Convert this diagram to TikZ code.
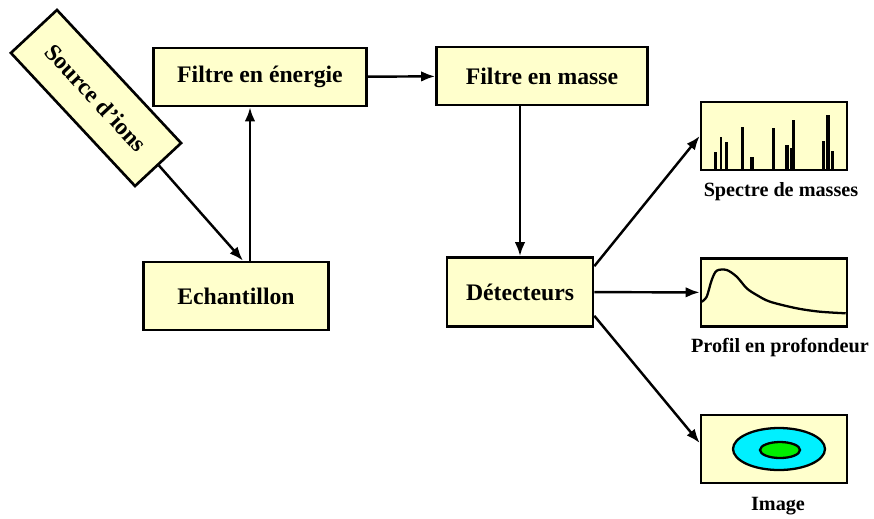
\documentclass[tikz,border=0pt]{standalone}
\usepackage{fontspec}
\setmainfont{Liberation Serif}
\usetikzlibrary{positioning,arrows.meta}

\definecolor{boxfill}{HTML}{FFFFCC}
\definecolor{ringcyan}{HTML}{00F0FF}
\definecolor{coregreen}{HTML}{00EE00}

\begin{document}
\begin{tikzpicture}[
    x=0.02cm, y=-0.02cm,
    box/.style={
        draw,
        line width=1.5pt,
        fill=boxfill,
        font=\bfseries\fontsize{13.5}{16}\selectfont,
        inner sep=0pt
    },
    result/.style={
        box,
        minimum width=2.92cm,
        minimum height=1.36cm
    },
    caption/.style={
        font=\bfseries\fontsize{11.5}{14}\selectfont,
        inner sep=1pt
    },
    arrow/.style={
        -{Latex[length=2.8mm,width=2.1mm]},
        line width=1.4pt
    },
    bar/.style={line width=1.4pt},
    thickbar/.style={line width=2.3pt}
]
    \useasboundingbox (0,0) rectangle (874,518);

    % Chain of the instrument
    \node[box, rotate=-47, minimum width=3.64cm, minimum height=1.26cm] (source) at (96,98) {Source d'ions};
    \node[box, minimum width=4.26cm, minimum height=1.16cm] (filtreE) at (260,77) {Filtre en énergie};
    \node[box, minimum width=4.22cm, minimum height=1.16cm] (filtreM) at (542,76) {Filtre en masse};
    \node[box, minimum width=3.7cm, minimum height=1.36cm] (echantillon) at (236,296) {Echantillon};
    \node[box, minimum width=2.92cm, minimum height=1.38cm] (detecteurs) at (520,292) {Détecteurs};

    % Results
    \node[result] (spectre) at (774,136) {};
    \node[result] (profil) at (774,292.5) {};
    \node[result] (image) at (774,449) {};

    \node[caption, below=5pt of spectre, xshift=0.14cm] (spectreLbl) {Spectre de masses};
    \node[caption, below=5pt of profil, xshift=0.12cm] (profilLbl) {Profil en profondeur};
    \node[caption, below=6pt of image, xshift=0.08cm] (imageLbl) {Image};

    % Connecting arrows
    \draw[arrow] (source.east) -- ([xshift=0.14cm]echantillon.north);
    \draw[arrow] ([xshift=0.28cm]echantillon.north) -- ([xshift=0.28cm]echantillon.north |- filtreE.south);
    \draw[arrow] (filtreE) -- (filtreM);
    \draw[arrow] (filtreM.south -| detecteurs.north) -- (detecteurs.north);
    \draw[arrow] ([yshift=-0.2cm]detecteurs.north east) -- (spectre.west);
    \draw[arrow] (detecteurs) -- (profil);
    \draw[arrow] ([yshift=0.24cm]detecteurs.south east) -- ([yshift=0.12cm]image.west);

    % Mass spectrum peaks
    \foreach \bx/\by in {715.7/152.3, 721/136.7, 726.7/142.3, 742.3/126.7, 773.3/127.7,
                         791.7/148.3, 793.3/120, 823.3/141, 832.3/151}
        \draw[bar] (\bx,170) -- (\bx,\by);
    \foreach \bx/\by in {751.7/156.7, 787/145, 827.7/115}
        \draw[thickbar] (\bx,170) -- (\bx,\by);

    % Depth profile
    \draw[line width=1.3pt] plot[smooth] coordinates {(701.7,301.7) (706.7,296.7) (711.7,280)
        (716.7,270.7) (726.7,270) (736.7,276.7) (746.7,288.3) (756.7,295) (770,301.7)
        (796.7,308.3) (820,311.7) (845.7,313.3)};

    % Image
    \draw[line width=1.3pt, fill=ringcyan] (779,449) ellipse [x radius=46, y radius=21];
    \draw[line width=1.3pt, fill=coregreen] (780,450) ellipse [x radius=20, y radius=8];
\end{tikzpicture}
\end{document}
